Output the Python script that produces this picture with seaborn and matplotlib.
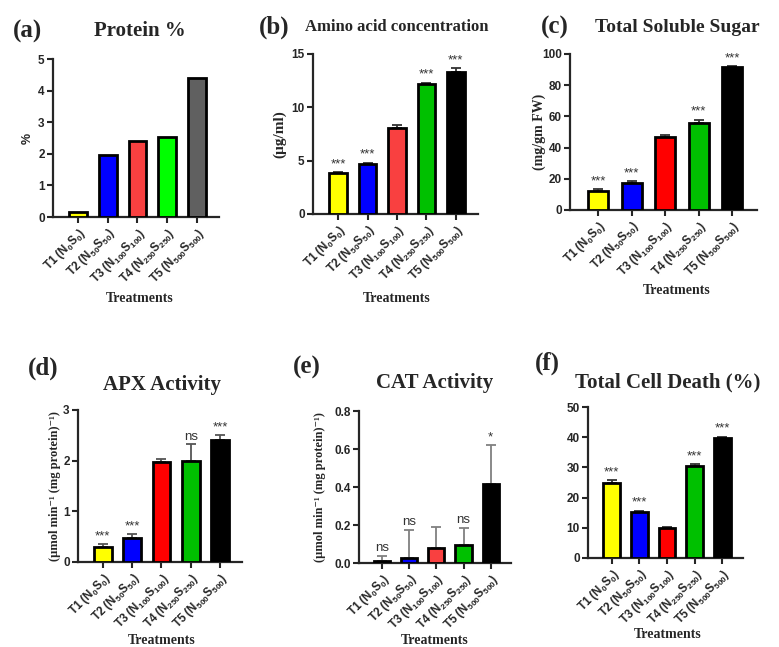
import matplotlib
matplotlib.use("Agg")
import matplotlib.pyplot as plt
import numpy as np
import pandas as pd
import seaborn as sns

# treatments shared by all panels
treatments = [r"T1 (N$_0$S$_0$)", r"T2 (N$_{50}$S$_{50}$)", r"T3 (N$_{100}$S$_{100}$)",
              r"T4 (N$_{250}$S$_{250}$)", r"T5 (N$_{500}$S$_{500}$)"]

protein = [0.15, 1.95, 2.40, 2.52, 4.40]

amino = [3.8, 4.7, 8.1, 12.2, 13.3]
amino_err = [0.12, 0.12, 0.2, 0.12, 0.35]
amino_sig = ["***", "***", "", "***", "***"]

sugar = [12.0, 17.0, 47.0, 56.0, 91.5]
sugar_err = [1.3, 1.3, 1.0, 2.0, 0.5]
sugar_sig = ["***", "***", "", "***", "***"]

apx = [0.29, 0.48, 1.97, 2.0, 2.40]
apx_err = [0.06, 0.07, 0.07, 0.32, 0.11]
apx_sig = ["***", "***", "", "ns", "***"]

cat = [0.008, 0.028, 0.08, 0.097, 0.415]
cat_err = [0.03, 0.147, 0.11, 0.088, 0.205]
cat_sig = ["ns", "ns", "", "ns", "*"]

death = [25.0, 15.3, 9.9, 30.6, 39.9]
death_err = [0.7, 0.4, 0.3, 0.6, 0.3]
death_sig = ["***", "***", "", "***", "***"]

pal_a = ["#ffff00", "#0000ff", "#f94040", "#00ff00", "#606060"]
pal_b = ["#ffff00", "#0000ff", "#f94040", "#00c000", "#000000"]
pal_c = ["#ffff00", "#0000ff", "#ff0000", "#00c000", "#000000"]

sns.set_style("ticks")
plt.rcParams["font.family"] = ["Liberation Sans", "DejaVu Sans"]
plt.rcParams["mathtext.fontset"] = "custom"
plt.rcParams["mathtext.rm"] = "Liberation Sans"
plt.rcParams["mathtext.default"] = "regular"

serif = ["Liberation Serif", "DejaVu Serif"]

fig = plt.figure(figsize=(7.79, 6.47), dpi=100)
W, H = 779, 647


def panel(box, values, colors, yticks, ylabel, ylabel_x, err=None, sig=None,
          ecolor="#333333", fmt="{:g}", ylabel_size=9):
    left, top, right, bottom = box
    ax = fig.add_axes([left / W, 1 - bottom / H, (right - left) / W, (bottom - top) / H])
    df = pd.DataFrame({"treatment": treatments, "value": values})
    sns.barplot(data=df, x="treatment", y="value", hue="treatment", palette=colors,
                legend=False, edgecolor="black", linewidth=2, width=0.6, saturation=1,
                errorbar=None, ax=ax, zorder=3)
    ymax = yticks[-1]
    if err is not None:
        ax.errorbar(range(len(values)), values, yerr=[np.zeros(len(err)), err],
                    fmt="none", ecolor=ecolor, elinewidth=1.3, capsize=3.5,
                    capthick=1.3, zorder=2)
        for i, (v, e, s) in enumerate(zip(values, err, sig)):
            if s:
                ax.text(i, v + e + 0.012 * ymax, s, ha="center", va="bottom",
                        fontsize=9.5, color="#333333")
    ax.set_xlim(-0.85, 4.75)
    ax.set_ylim(0, ymax)
    ax.set_yticks(yticks)
    ax.set_yticklabels([fmt.format(t) for t in yticks], fontsize=8.5, fontweight="bold")
    ax.set_xticks(range(5))
    ax.set_xticklabels(treatments, rotation=45, ha="right", va="top",
                       rotation_mode="anchor", fontsize=8.5, fontweight="bold")
    ax.set_xlabel("")
    if ylabel == "%":
        ax.set_ylabel(ylabel, fontweight="bold", fontsize=9)
    else:
        ax.set_ylabel(ylabel, family=serif, fontweight="bold", fontsize=ylabel_size)
    ax.yaxis.set_label_coords((ylabel_x - left) / (right - left), 0.5)
    sns.despine(ax=ax)
    for sp in ["left", "bottom"]:
        ax.spines[sp].set_linewidth(1.6)
    ax.tick_params(width=1.5, length=4.5, pad=1.5)
    return ax


panel((53, 59, 219, 217), protein, pal_a, [0, 1, 2, 3, 4, 5], "%", 34)
panel((313, 54, 478, 214), amino, pal_b, [0, 5, 10, 15], "(µg/ml)", 286,
      amino_err, amino_sig, ylabel_size=11)
panel((570, 54, 757, 210), sugar, pal_c, [0, 20, 40, 60, 80, 100], "(mg/gm FW)", 546,
      sugar_err, sugar_sig, ylabel_size=10)
panel((78, 410, 242, 562), apx, pal_c, [0, 1, 2, 3], "(µmol min⁻¹ (mg protein)⁻¹)", 61,
      apx_err, apx_sig, ecolor="#555555")
panel((359, 411, 511, 563), cat, pal_b, [0, 0.2, 0.4, 0.6, 0.8],
      "(µmol min⁻¹ (mg protein)⁻¹)", 326, cat_err, cat_sig, ecolor="#808080",
      fmt="{:.1f}")
panel((588, 407, 743, 558), death, pal_c, [0, 10, 20, 30, 40, 50], "", 560,
      death_err, death_sig)

titles = [("Protein %", 140, 31, 15), ("Amino acid concentration", 397, 27, 12),
          ("Total Soluble Sugar", 677, 27, 14), ("APX Activity", 162, 385, 15),
          ("CAT Activity", 435, 383, 15), ("Total Cell Death (%)", 668, 382, 15)]
for t, x, y, fs in titles:
    fig.text(x / W, 1 - y / H, t, ha="center", va="center", family=serif,
             fontweight="bold", fontsize=fs)

letters = [("(a)", 27, 31), ("(b)", 274, 27), ("(c)", 555, 27),
           ("(d)", 43, 368), ("(e)", 307, 367), ("(f)", 547, 363)]
for t, x, y in letters:
    fig.text(x / W, 1 - y / H, t, ha="center", va="center", family=serif,
             fontweight="bold", fontsize=18)

xlabels = [(140, 298), (397, 298), (677, 291), (162, 640), (435, 640), (668, 635)]
for x, y in xlabels:
    fig.text(x / W, 1 - y / H, "Treatments", ha="center", va="center", family=serif,
             fontweight="bold", fontsize=10)

fig.savefig("out.png", dpi=100)
